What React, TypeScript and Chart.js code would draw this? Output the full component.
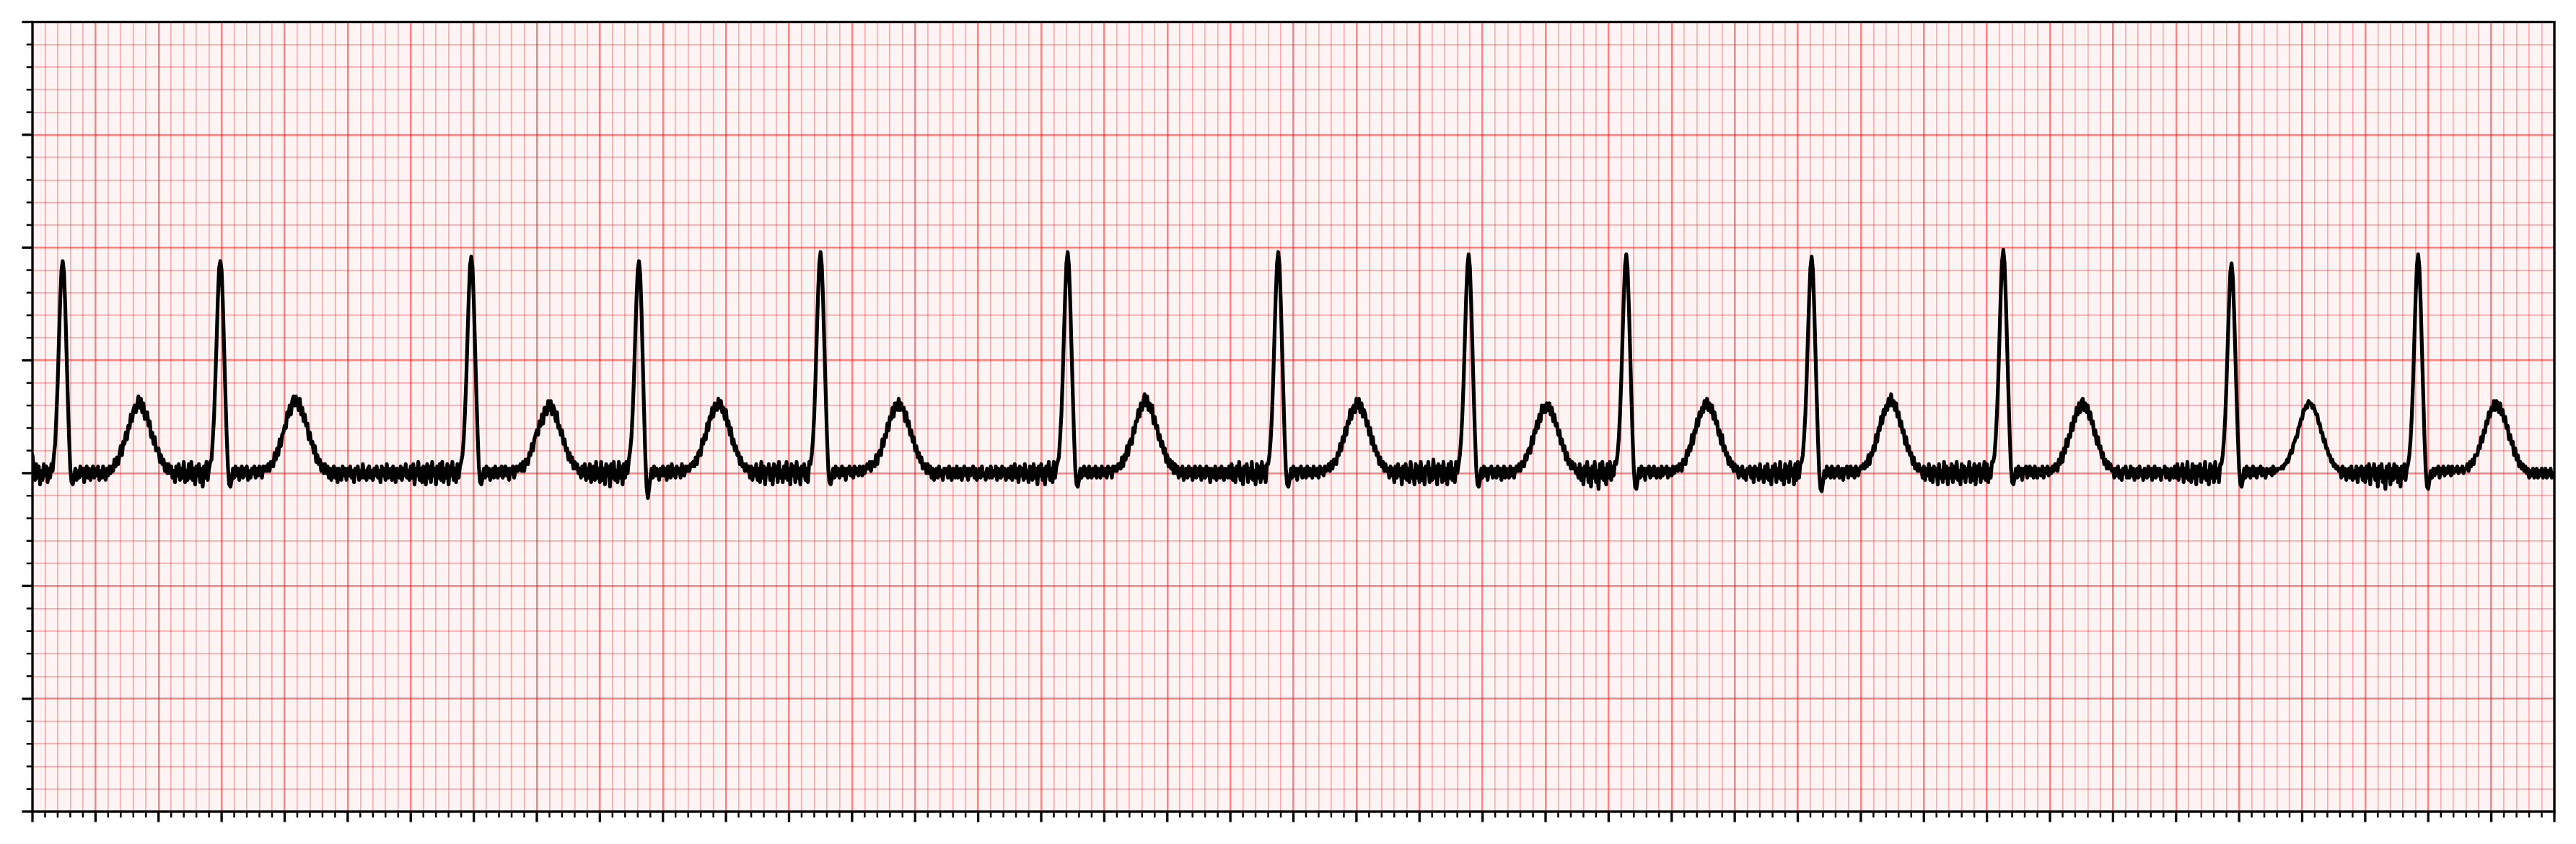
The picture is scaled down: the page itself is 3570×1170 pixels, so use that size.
import React, { useEffect, useRef } from "react";
import { Chart, registerables } from "chart.js";

Chart.register(...registerables);

// ---- data -------------------------------------------------------------
const sampleIntervalMs = 4;
const timeMinMs = 0;
const timeMaxMs = 8000;
const voltMinMv = -1.5;
const voltMaxMv = 2.0;
const minorStepMs = 40;
const majorEveryMinor = 5;
const minorStepMv = 0.1;

// ECG trace in mV, one sample every 4 ms (rows of 25 samples = 100 ms)
const ecgMv = [
  0.08, 0.02, -0.03, 0.04, -0.02, 0.03, -0.05, 0.01, -0.03, 0.04, -0.01, 0.03, -0.04, 0.02, -0.02, 0.04, 0.01, 0.08, 0.13, 0.26, 0.40, 0.59, 0.77, 0.90, 0.94,
  0.89, 0.74, 0.54, 0.34, 0.16, 0.02, -0.04, -0.05, -0.02, 0.02, -0.03, 0.01, -0.02, 0.03, -0.01, 0.02, -0.04, 0.01, 0.03, -0.02, 0.02, -0.03, 0.00, 0.03, -0.02,
  0.02, -0.01, 0.03, -0.03, 0.01, -0.02, 0.03, 0.00, -0.03, 0.02, -0.01, 0.03, 0.00, 0.03, 0.01, 0.06, 0.03, 0.07, 0.04, 0.08, 0.12, 0.08, 0.14, 0.13, 0.18,
  0.15, 0.21, 0.20, 0.26, 0.23, 0.28, 0.30, 0.27, 0.30, 0.34, 0.29, 0.33, 0.27, 0.31, 0.24, 0.27, 0.27, 0.21, 0.23, 0.16, 0.18, 0.13, 0.16, 0.10, 0.11,
  0.11, 0.05, 0.08, 0.04, 0.06, 0.01, 0.04, 0.00, 0.04, 0.00, 0.03, -0.02, 0.01, -0.04, 0.03, -0.01, 0.04, -0.03, 0.02, -0.02, 0.05, -0.04, 0.01, -0.03, 0.04,
  -0.02, 0.05, -0.03, 0.02, -0.05, 0.03, -0.01, 0.04, -0.04, 0.02, -0.06, 0.03, -0.02, 0.05, -0.03, 0.02, 0.05, 0.06, 0.15, 0.25, 0.41, 0.58, 0.77, 0.91, 0.94,
  0.90, 0.75, 0.55, 0.35, 0.17, 0.03, -0.05, -0.06, -0.03, 0.02, -0.02, 0.03, -0.01, 0.02, -0.03, 0.01, 0.03, -0.02, 0.02, -0.01, 0.03, -0.03, 0.01, -0.02, 0.02,
  0.00, 0.03, -0.02, 0.02, -0.01, 0.03, 0.00, -0.02, 0.03, 0.01, 0.03, 0.01, 0.04, 0.01, 0.05, 0.05, 0.03, 0.09, 0.06, 0.11, 0.08, 0.15, 0.12, 0.17, 0.18,
  0.21, 0.20, 0.27, 0.25, 0.30, 0.26, 0.32, 0.34, 0.30, 0.34, 0.32, 0.28, 0.33, 0.26, 0.29, 0.23, 0.26, 0.21, 0.22, 0.15, 0.18, 0.13, 0.14, 0.09, 0.12,
  0.05, 0.08, 0.04, 0.06, 0.01, 0.04, 0.00, 0.04, 0.00, 0.03, -0.02, 0.02, -0.03, 0.01, 0.03, -0.02, 0.02, -0.04, 0.02, 0.00, -0.03, 0.03, -0.01, 0.02, -0.03,
  0.02, -0.01, 0.03, -0.02, 0.01, -0.04, 0.02, 0.00, 0.03, -0.03, 0.01, -0.02, 0.04, -0.02, 0.01, -0.03, 0.02, 0.03, -0.02, 0.01, -0.03, 0.02, -0.01, 0.03, -0.02,
  0.01, -0.04, 0.03, -0.01, 0.02, -0.03, 0.04, -0.02, 0.00, 0.02, -0.03, 0.03, -0.01, -0.04, 0.02, 0.01, -0.02, 0.03, -0.03, 0.02, -0.01, 0.04, -0.02, 0.01, -0.03,
  0.03, -0.02, 0.04, -0.05, 0.02, -0.01, 0.05, -0.03, 0.02, -0.04, 0.03, 0.00, -0.05, 0.04, -0.02, 0.03, -0.04, 0.05, -0.01, 0.02, -0.05, 0.03, -0.02, 0.04, -0.03,
  0.05, -0.04, 0.02, -0.02, 0.04, -0.05, 0.03, -0.01, 0.05, -0.03, 0.02, -0.04, 0.04, -0.02, 0.03, 0.05, 0.08, 0.15, 0.27, 0.41, 0.60, 0.78, 0.92, 0.96, 0.91,
  0.76, 0.56, 0.36, 0.18, 0.03, -0.04, -0.05, -0.02, 0.02, -0.02, 0.03, -0.01, 0.02, -0.03, 0.01, 0.02, -0.02, 0.03, 0.00, -0.02, 0.02, -0.01, 0.03, -0.02, 0.01,
  0.03, -0.01, 0.02, -0.03, 0.02, 0.00, 0.03, -0.02, 0.01, 0.03, 0.01, 0.02, 0.04, 0.01, 0.05, 0.01, 0.06, 0.06, 0.04, 0.09, 0.08, 0.13, 0.10, 0.15, 0.17,
  0.19, 0.17, 0.23, 0.21, 0.26, 0.22, 0.29, 0.29, 0.26, 0.32, 0.28, 0.32, 0.26, 0.30, 0.28, 0.23, 0.27, 0.20, 0.21, 0.17, 0.19, 0.13, 0.15, 0.10, 0.11,
  0.06, 0.09, 0.05, 0.07, 0.02, 0.05, 0.02, 0.04, 0.00, 0.02, -0.02, 0.03, -0.01, 0.04, -0.03, 0.02, -0.02, 0.04, -0.04, 0.01, 0.03, -0.03, 0.05, -0.02, 0.02,
  -0.04, 0.05, -0.03, 0.02, -0.05, 0.04, -0.01, 0.03, -0.06, 0.04, -0.02, 0.05, -0.03, 0.01, -0.04, 0.05, -0.02, 0.03, -0.05, 0.04, -0.02, 0.05, 0.00, 0.06, 0.10,
  0.16, 0.27, 0.42, 0.60, 0.77, 0.90, 0.94, 0.88, 0.72, 0.50, 0.28, 0.08, -0.06, -0.11, -0.07, -0.02, 0.02, -0.02, 0.03, -0.01, 0.02, 0.00, -0.03, 0.02, -0.01,
  0.03, -0.01, 0.02, -0.03, 0.03, 0.01, -0.02, 0.04, -0.01, 0.02, -0.02, 0.03, 0.00, 0.02, -0.02, 0.04, 0.01, -0.01, 0.03, 0.01, 0.03, 0.01, 0.04, 0.03, 0.05,
  0.03, 0.07, 0.04, 0.09, 0.10, 0.08, 0.15, 0.13, 0.17, 0.15, 0.22, 0.19, 0.25, 0.24, 0.29, 0.25, 0.31, 0.30, 0.28, 0.33, 0.29, 0.32, 0.27, 0.29, 0.24,
  0.28, 0.21, 0.23, 0.17, 0.20, 0.13, 0.15, 0.10, 0.12, 0.08, 0.09, 0.04, 0.07, 0.03, 0.04, 0.01, 0.04, 0.01, 0.03, -0.02, 0.03, -0.03, 0.02, -0.01, 0.04,
  -0.03, 0.02, -0.04, 0.05, -0.02, 0.03, -0.05, 0.02, 0.00, 0.04, -0.03, 0.02, -0.05, 0.04, -0.01, 0.03, -0.04, 0.05, -0.02, 0.01, -0.04, 0.03, -0.02, 0.05, -0.03,
  0.02, -0.05, 0.04, -0.01, 0.03, -0.04, 0.05, -0.02, 0.02, -0.05, 0.03, -0.01, 0.04, -0.03, 0.02, -0.04, 0.05, 0.04, 0.08, 0.15, 0.26, 0.42, 0.61, 0.79, 0.93,
  0.98, 0.92, 0.77, 0.57, 0.37, 0.18, 0.03, -0.04, -0.05, -0.02, 0.02, -0.02, 0.03, -0.01, 0.02, -0.02, 0.01, 0.03, -0.01, 0.02, -0.03, 0.02, 0.00, 0.03, -0.01,
  0.02, -0.02, 0.03, 0.00, 0.02, -0.01, 0.03, 0.01, -0.01, 0.03, 0.00, 0.02, 0.04, 0.02, 0.05, 0.01, 0.05, 0.04, 0.03, 0.08, 0.04, 0.09, 0.10, 0.08, 0.15,
  0.12, 0.17, 0.16, 0.22, 0.19, 0.25, 0.24, 0.29, 0.25, 0.31, 0.31, 0.28, 0.33, 0.28, 0.31, 0.28, 0.29, 0.23, 0.27, 0.21, 0.23, 0.17, 0.19, 0.14, 0.16,
  0.10, 0.12, 0.07, 0.09, 0.05, 0.07, 0.02, 0.04, 0.04, 0.00, 0.04, 0.00, 0.03, -0.02, 0.02, -0.03, 0.01, 0.02, -0.02, 0.03, -0.01, 0.01, -0.03, 0.02, 0.00,
  0.02, -0.02, 0.03, -0.01, -0.03, 0.02, 0.01, -0.02, 0.03, -0.02, 0.00, 0.02, -0.03, 0.01, 0.03, -0.01, 0.02, -0.03, 0.02, -0.01, 0.01, 0.03, -0.02, 0.02, -0.03,
  0.01, 0.02, -0.02, 0.03, -0.01, 0.00, -0.03, 0.02, 0.01, -0.02, 0.03, -0.02, 0.01, -0.01, 0.03, -0.03, 0.02, 0.00, -0.02, 0.03, -0.01, 0.02, -0.03, 0.01, 0.02,
  -0.02, 0.03, -0.03, 0.01, 0.04, -0.02, 0.02, -0.04, 0.03, -0.01, 0.02, -0.03, 0.04, -0.02, 0.01, -0.04, 0.03, 0.00, -0.03, 0.04, -0.02, 0.02, -0.05, 0.03, -0.01,
  0.04, -0.03, 0.02, -0.05, 0.03, -0.01, 0.05, -0.03, 0.02, -0.04, 0.05, -0.02, 0.03, 0.05, 0.07, 0.16, 0.26, 0.42, 0.61, 0.79, 0.93, 0.98, 0.92, 0.76, 0.56,
  0.36, 0.17, 0.02, -0.05, -0.06, -0.03, 0.02, -0.02, 0.01, 0.03, -0.01, 0.02, -0.02, 0.03, 0.00, -0.02, 0.02, -0.01, 0.03, -0.02, 0.02, 0.00, -0.02, 0.03, 0.01,
  -0.01, 0.02, -0.02, 0.03, 0.00, 0.02, -0.02, 0.03, 0.01, 0.03, 0.01, 0.04, 0.04, 0.02, 0.07, 0.03, 0.08, 0.06, 0.12, 0.08, 0.14, 0.15, 0.13, 0.20, 0.18,
  0.23, 0.23, 0.28, 0.25, 0.31, 0.28, 0.32, 0.35, 0.30, 0.34, 0.28, 0.31, 0.27, 0.30, 0.22, 0.25, 0.20, 0.21, 0.15, 0.17, 0.12, 0.14, 0.09, 0.11, 0.05,
  0.08, 0.03, 0.06, 0.02, 0.05, 0.00, 0.04, 0.00, 0.03, -0.02, 0.02, -0.01, 0.03, -0.03, 0.01, 0.02, -0.02, 0.03, -0.01, 0.02, -0.03, 0.01, 0.03, -0.02, 0.02,
  -0.01, 0.03, -0.03, 0.02, 0.00, -0.02, 0.03, -0.01, 0.02, -0.04, 0.02, 0.01, -0.02, 0.03, -0.03, 0.01, 0.02, -0.02, 0.03, -0.01, -0.03, 0.02, 0.01, -0.02, 0.03,
  -0.02, 0.04, -0.03, 0.02, -0.04, 0.03, -0.01, 0.05, -0.03, 0.02, -0.05, 0.03, 0.00, 0.04, -0.04, 0.02, -0.02, 0.05, -0.03, 0.01, -0.05, 0.04, -0.02, 0.03, -0.04,
  0.05, -0.02, 0.03, -0.04, 0.04, 0.04, 0.08, 0.15, 0.26, 0.42, 0.61, 0.79, 0.93, 0.98, 0.92, 0.76, 0.56, 0.36, 0.17, 0.02, -0.05, -0.06, -0.03, 0.02, -0.02,
  0.03, -0.01, 0.02, -0.03, 0.02, 0.00, 0.03, -0.02, 0.01, 0.02, -0.02, 0.03, -0.01, 0.02, 0.00, -0.02, 0.03, 0.01, -0.01, 0.02, -0.02, 0.03, 0.00, 0.02, -0.01,
  0.03, 0.01, 0.02, 0.04, 0.01, 0.05, 0.02, 0.06, 0.06, 0.04, 0.09, 0.08, 0.13, 0.10, 0.16, 0.14, 0.20, 0.17, 0.23, 0.22, 0.28, 0.24, 0.29, 0.30, 0.27,
  0.33, 0.29, 0.33, 0.27, 0.31, 0.25, 0.28, 0.26, 0.21, 0.23, 0.17, 0.20, 0.13, 0.16, 0.10, 0.12, 0.08, 0.09, 0.04, 0.07, 0.03, 0.05, 0.01, 0.04, 0.01,
  0.02, -0.02, 0.03, -0.01, 0.02, -0.04, 0.03, -0.02, 0.04, -0.01, 0.02, -0.05, 0.03, -0.02, 0.04, -0.03, 0.02, -0.04, 0.05, -0.02, 0.01, -0.05, 0.04, -0.02, 0.03,
  -0.04, 0.05, -0.03, 0.02, -0.05, 0.03, 0.00, 0.05, -0.04, 0.02, -0.03, 0.06, -0.02, 0.03, -0.05, 0.04, -0.01, 0.03, -0.04, 0.05, -0.03, 0.02, -0.05, 0.04, -0.02,
  0.05, -0.03, 0.02, -0.04, 0.05, 0.00, 0.04, 0.08, 0.15, 0.26, 0.41, 0.60, 0.78, 0.92, 0.97, 0.91, 0.75, 0.55, 0.35, 0.17, 0.02, -0.05, -0.06, -0.03, 0.02,
  -0.02, 0.03, -0.01, 0.02, -0.03, 0.02, 0.00, 0.03, -0.02, 0.01, 0.02, -0.02, 0.03, -0.01, 0.02, -0.03, 0.01, 0.03, -0.02, 0.02, 0.00, -0.02, 0.03, -0.01, 0.02,
  -0.02, 0.02, 0.03, 0.01, 0.04, 0.01, 0.05, 0.05, 0.03, 0.08, 0.06, 0.10, 0.11, 0.09, 0.16, 0.13, 0.19, 0.18, 0.23, 0.20, 0.26, 0.23, 0.30, 0.27, 0.30,
  0.27, 0.31, 0.28, 0.31, 0.26, 0.29, 0.23, 0.26, 0.21, 0.22, 0.17, 0.19, 0.13, 0.15, 0.10, 0.12, 0.06, 0.09, 0.04, 0.06, 0.02, 0.05, 0.02, 0.04, 0.00,
  0.02, -0.02, 0.04, -0.03, 0.02, -0.05, 0.03, -0.01, 0.05, -0.04, 0.02, -0.06, 0.03, -0.02, 0.05, -0.04, 0.01, -0.07, 0.04, -0.02, 0.05, -0.03, 0.02, -0.05, 0.04,
  -0.02, 0.05, -0.03, 0.03, -0.01, 0.05, 0.04, 0.08, 0.15, 0.26, 0.41, 0.60, 0.78, 0.92, 0.97, 0.91, 0.75, 0.55, 0.35, 0.16, 0.01, -0.06, -0.07, -0.03, 0.02,
  -0.02, 0.03, -0.01, 0.02, -0.03, 0.02, 0.00, 0.03, -0.02, 0.02, -0.01, 0.03, 0.00, -0.02, 0.02, 0.01, -0.02, 0.03, -0.01, 0.02, 0.00, 0.03, -0.02, 0.02, 0.01,
  -0.01, 0.03, 0.00, 0.02, 0.03, 0.01, 0.04, 0.04, 0.01, 0.06, 0.06, 0.04, 0.10, 0.08, 0.12, 0.10, 0.17, 0.13, 0.19, 0.18, 0.24, 0.21, 0.27, 0.25, 0.29,
  0.27, 0.32, 0.29, 0.33, 0.28, 0.31, 0.27, 0.30, 0.24, 0.27, 0.22, 0.23, 0.17, 0.19, 0.13, 0.17, 0.10, 0.12, 0.08, 0.09, 0.04, 0.07, 0.03, 0.05, 0.01,
  0.04, 0.01, 0.03, -0.02, 0.02, -0.01, 0.03, -0.02, 0.01, -0.03, 0.02, 0.00, 0.03, -0.02, 0.02, -0.04, 0.03, -0.01, 0.02, -0.03, 0.04, -0.02, 0.01, -0.04, 0.03,
  -0.02, 0.04, -0.03, 0.01, -0.05, 0.03, -0.01, 0.04, -0.04, 0.02, -0.02, 0.05, -0.03, 0.01, -0.05, 0.04, -0.02, 0.03, -0.04, 0.05, -0.01, 0.02, -0.05, 0.04, -0.03,
  0.05, -0.02, 0.04, 0.05, 0.08, 0.16, 0.26, 0.41, 0.60, 0.77, 0.91, 0.96, 0.90, 0.74, 0.54, 0.34, 0.15, 0.00, -0.07, -0.08, -0.04, 0.01, -0.02, 0.03, -0.01,
  0.02, -0.02, 0.03, 0.00, -0.02, 0.02, -0.01, 0.03, -0.02, 0.01, 0.02, -0.03, 0.02, 0.00, 0.03, -0.02, 0.01, 0.03, -0.01, 0.02, -0.02, 0.03, 0.01, -0.01, 0.02,
  0.03, 0.02, 0.04, 0.02, 0.05, 0.03, 0.08, 0.04, 0.09, 0.08, 0.12, 0.10, 0.17, 0.14, 0.20, 0.19, 0.25, 0.22, 0.28, 0.26, 0.30, 0.28, 0.33, 0.30, 0.35,
  0.30, 0.32, 0.28, 0.31, 0.25, 0.27, 0.21, 0.23, 0.18, 0.19, 0.13, 0.16, 0.10, 0.12, 0.08, 0.09, 0.04, 0.07, 0.02, 0.04, 0.01, 0.04, 0.01, 0.02, -0.02,
  0.03, -0.03, 0.02, -0.01, 0.04, -0.03, 0.02, -0.04, 0.03, -0.01, 0.02, -0.05, 0.04, -0.02, 0.01, -0.04, 0.05, -0.02, 0.03, -0.05, 0.02, -0.02, 0.04, -0.04, 0.03,
  -0.02, 0.05, -0.03, 0.01, -0.05, 0.04, -0.02, 0.03, -0.04, 0.02, -0.01, 0.05, -0.04, 0.02, -0.03, 0.04, -0.05, 0.03, -0.01, 0.04, -0.04, 0.02, -0.02, 0.05, -0.03,
  0.04, -0.04, 0.02, -0.02, 0.05, 0.05, 0.08, 0.16, 0.27, 0.42, 0.61, 0.80, 0.94, 0.99, 0.93, 0.77, 0.57, 0.37, 0.18, 0.03, -0.04, -0.05, -0.02, 0.02, -0.02,
  0.03, -0.01, 0.02, -0.03, 0.02, 0.00, 0.03, -0.02, 0.01, 0.03, -0.01, 0.02, -0.02, 0.03, 0.00, -0.02, 0.02, 0.01, -0.01, 0.03, -0.02, 0.02, 0.00, 0.03, -0.01,
  0.02, 0.00, 0.03, 0.01, 0.04, 0.04, 0.01, 0.06, 0.04, 0.09, 0.05, 0.11, 0.09, 0.15, 0.12, 0.17, 0.16, 0.22, 0.19, 0.25, 0.23, 0.29, 0.26, 0.31, 0.27,
  0.32, 0.33, 0.28, 0.31, 0.27, 0.30, 0.24, 0.27, 0.22, 0.23, 0.17, 0.19, 0.13, 0.16, 0.11, 0.12, 0.07, 0.09, 0.04, 0.06, 0.02, 0.05, 0.02, 0.04, 0.01,
  0.02, -0.02, 0.02, -0.01, 0.03, -0.02, 0.01, -0.03, 0.02, 0.00, 0.03, -0.02, 0.01, -0.02, 0.03, -0.01, 0.02, -0.03, 0.01, 0.02, -0.02, 0.03, -0.01, 0.01, -0.03,
  0.02, 0.00, -0.02, 0.03, -0.01, 0.02, -0.03, 0.01, 0.03, -0.02, 0.02, -0.01, 0.02, -0.03, 0.01, 0.00, 0.03, -0.02, 0.02, -0.01, -0.03, 0.02, 0.01, -0.02, 0.03,
  -0.02, 0.04, -0.03, 0.02, -0.01, 0.04, -0.04, 0.02, -0.02, 0.05, -0.03, 0.01, -0.04, 0.04, -0.02, 0.03, -0.05, 0.03, -0.01, 0.04, -0.04, 0.02, -0.02, 0.05, -0.03,
  0.01, -0.05, 0.04, -0.02, 0.03, -0.04, 0.05, -0.02, 0.02, -0.04, 0.04, 0.04, 0.08, 0.15, 0.25, 0.40, 0.58, 0.75, 0.89, 0.93, 0.87, 0.72, 0.53, 0.34, 0.16,
  0.02, -0.05, -0.06, -0.03, 0.02, -0.02, 0.03, -0.01, 0.02, -0.02, 0.01, 0.03, -0.01, 0.02, -0.02, 0.02, 0.00, 0.03, -0.01, 0.02, 0.00, -0.02, 0.02, 0.01, 0.00,
  0.02, -0.01, 0.03, 0.00, 0.02, 0.01, 0.02, 0.02, 0.02, 0.03, 0.02, 0.04, 0.04, 0.06, 0.05, 0.08, 0.10, 0.09, 0.13, 0.14, 0.16, 0.16, 0.20, 0.21, 0.24,
  0.24, 0.28, 0.28, 0.30, 0.29, 0.32, 0.31, 0.31, 0.29, 0.30, 0.28, 0.26, 0.26, 0.22, 0.22, 0.18, 0.18, 0.14, 0.15, 0.11, 0.11, 0.08, 0.08, 0.05, 0.06,
  0.03, 0.04, 0.02, 0.03, 0.01, 0.02, -0.02, 0.03, -0.01, 0.02, -0.03, 0.01, 0.02, -0.02, 0.03, -0.03, 0.01, -0.02, 0.03, -0.04, 0.02, -0.01, 0.03, -0.03, 0.02,
  -0.04, 0.03, -0.02, 0.04, -0.05, 0.02, -0.01, 0.04, -0.03, 0.02, -0.06, 0.03, -0.02, 0.04, -0.04, 0.01, -0.07, 0.03, -0.02, 0.04, -0.05, 0.02, -0.03, 0.04, -0.02,
  0.03, -0.04, 0.02, -0.06, 0.03, -0.02, 0.04, -0.03, 0.02, 0.04, 0.08, 0.15, 0.26, 0.41, 0.60, 0.78, 0.92, 0.97, 0.91, 0.75, 0.55, 0.35, 0.16, 0.01, -0.06,
  -0.07, -0.03, 0.01, -0.02, 0.02, -0.01, 0.02, 0.00, 0.03, -0.02, 0.02, 0.00, 0.03, -0.01, 0.02, 0.00, 0.03, 0.01, -0.01, 0.03, 0.00, 0.02, 0.01, 0.03, 0.00,
  0.02, 0.01, 0.03, 0.00, 0.02, 0.02, 0.04, 0.01, 0.05, 0.03, 0.06, 0.04, 0.08, 0.08, 0.08, 0.12, 0.11, 0.16, 0.14, 0.19, 0.18, 0.23, 0.22, 0.27, 0.25,
  0.29, 0.28, 0.32, 0.28, 0.32, 0.31, 0.27, 0.31, 0.26, 0.28, 0.23, 0.25, 0.20, 0.21, 0.15, 0.17, 0.13, 0.14, 0.08, 0.11, 0.06, 0.08, 0.03, 0.05, 0.02,
  0.04, 0.01, 0.03, 0.00, 0.02, -0.02, 0.01, -0.01, 0.02, -0.02, 0.01, 0.02, -0.02, 0.01, -0.01, 0.02, -0.02, 0.00, 0.02, -0.02, 0.01, -0.01, 0.02, -0.02, 0.00,
  -0.01,
];

// ---- styles -----------------------------------------------------------
const PAPER = "#fff4f4";
const GRID_MAJOR = "rgba(255,0,0,0.47)";
const GRID_MINOR = "rgba(255,0,0,0.3)";
const W = 3570;
const H = 1170;

const isMajorX = (v: number) => Math.round(v / minorStepMs) % majorEveryMinor === 0;
const isMajorY = (v: number) => Math.abs(Math.round(v / minorStepMv)) % majorEveryMinor === 0;

export default function App() {
  const ref = useRef<HTMLCanvasElement>(null);

  useEffect(() => {
    document.body.style.margin = "0";
    const canvas = ref.current;
    if (!canvas) return;

    const paperPlugin = {
      id: "ecgPaper",
      beforeDraw(chart: any) {
        const { ctx, chartArea: a } = chart;
        ctx.save();
        ctx.fillStyle = "#ffffff";
        ctx.fillRect(0, 0, chart.width, chart.height);
        ctx.fillStyle = PAPER;
        ctx.fillRect(a.left, a.top, a.right - a.left, a.bottom - a.top);
        ctx.restore();
      },
      afterDraw(chart: any) {
        const { ctx, chartArea: a, scales } = chart;
        ctx.save();
        ctx.strokeStyle = "#000000";
        ctx.lineCap = "butt";
        for (const t of scales.x.ticks) {
          const px = scales.x.getPixelForValue(t.value);
          const major = isMajorX(t.value);
          ctx.lineWidth = major ? 3.33 : 2.5;
          ctx.beginPath();
          ctx.moveTo(px, a.bottom);
          ctx.lineTo(px, a.bottom + (major ? 14.6 : 8.3));
          ctx.stroke();
        }
        for (const t of scales.y.ticks) {
          const py = scales.y.getPixelForValue(t.value);
          const major = isMajorY(t.value);
          ctx.lineWidth = major ? 3.33 : 2.5;
          ctx.beginPath();
          ctx.moveTo(a.left, py);
          ctx.lineTo(a.left - (major ? 14.6 : 8.3), py);
          ctx.stroke();
        }
        ctx.lineWidth = 3.33;
        ctx.lineJoin = "miter";
        ctx.strokeRect(a.left, a.top, a.right - a.left, a.bottom - a.top);
        ctx.restore();
      },
    };

    const points = ecgMv.map((v, i) => ({ x: timeMinMs + i * sampleIntervalMs, y: v }));

    const chart = new Chart(canvas, {
      type: "line",
      data: {
        datasets: [
          {
            data: points,
            borderColor: "#000000",
            borderWidth: 5.2,
            pointRadius: 0,
            tension: 0,
            borderJoinStyle: "round",
            borderCapStyle: "round",
            fill: false,
          },
        ],
      },
      options: {
        responsive: false,
        animation: false,
        events: [],
        devicePixelRatio: 1,
        layout: {
          autoPadding: false,
          padding: { left: 45, right: 30, top: 30.5, bottom: 45 },
        },
        plugins: {
          legend: { display: false },
          tooltip: { enabled: false },
          title: { display: false },
        },
        scales: {
          x: {
            type: "linear",
            min: timeMinMs,
            max: timeMaxMs,
            border: { display: false },
            ticks: { display: false, stepSize: minorStepMs },
            grid: {
              drawTicks: false,
              color: (ctx: any) => (isMajorX(ctx.tick.value) ? GRID_MAJOR : GRID_MINOR),
              lineWidth: (ctx: any) => (isMajorX(ctx.tick.value) ? 2.5 : 1.67),
            },
          },
          y: {
            type: "linear",
            min: voltMinMv,
            max: voltMaxMv,
            border: { display: false },
            ticks: { display: false, stepSize: minorStepMv },
            grid: {
              drawTicks: false,
              color: (ctx: any) => (isMajorY(ctx.tick.value) ? GRID_MAJOR : GRID_MINOR),
              lineWidth: (ctx: any) => (isMajorY(ctx.tick.value) ? 2.5 : 1.67),
            },
          },
        },
      },
      plugins: [paperPlugin],
    } as any);

    return () => chart.destroy();
  }, []);

  return <canvas ref={ref} width={W} height={H} style={{ display: "block" }} />;
}
